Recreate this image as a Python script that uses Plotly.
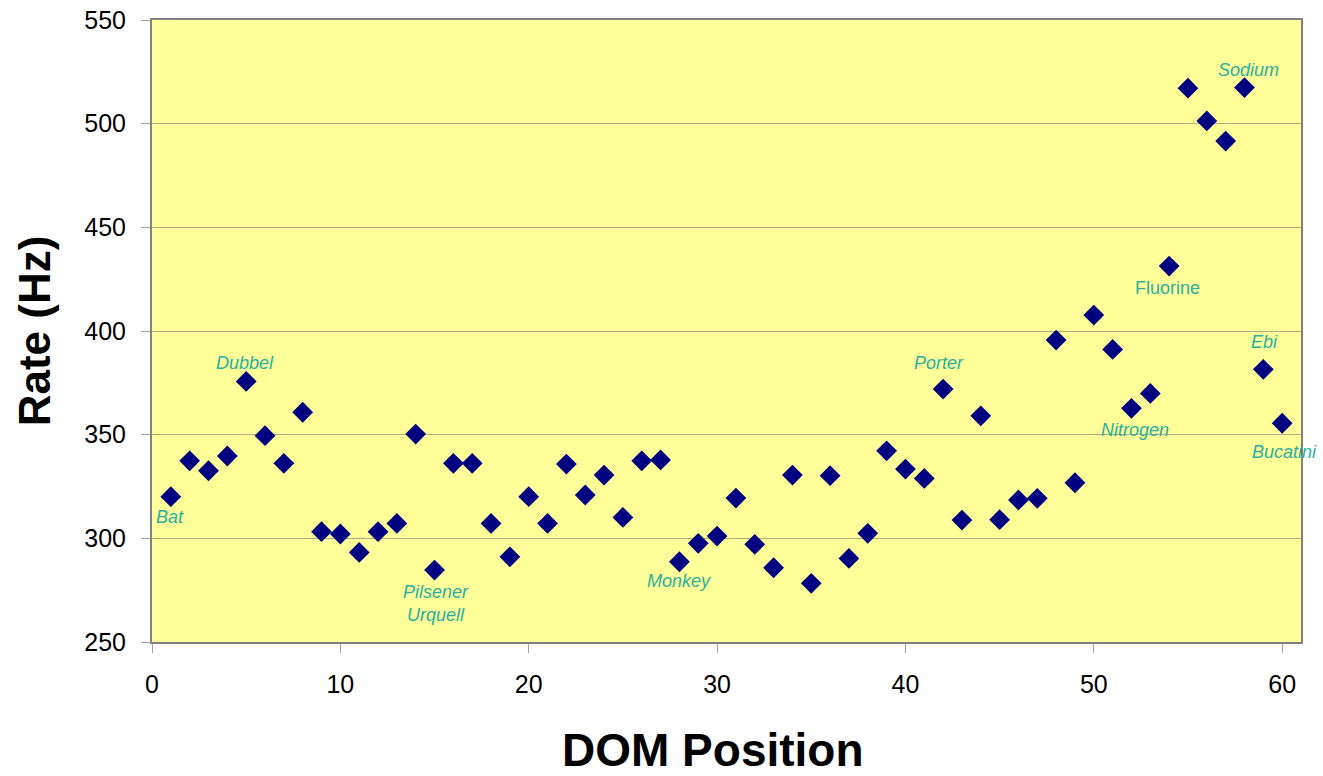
import plotly.graph_objects as go

positions = list(range(1, 61))
rates = [320.1, 337.4, 332.6, 339.7, 375.7, 349.5, 336.2, 360.8, 303.2, 302.1,
         293.2, 303.2, 307.2, 350.3, 284.7, 336.2, 336.2, 307.2, 291.1, 320.1,
         307.2, 335.8, 320.9, 330.5, 310.1, 337.4, 337.8, 288.7, 297.6, 301.1,
         319.4, 297.1, 285.8, 330.5, 278.3, 330.2, 290.3, 302.4, 342.2, 333.4,
         328.9, 372.0, 308.8, 359.1, 309.0, 318.5, 319.3, 395.6, 326.8, 407.7,
         391.1, 362.7, 369.9, 431.3, 517.1, 501.3, 491.6, 517.4, 381.5, 355.5]

label_texts = ["Bat", "Dubbel", "Pilsener<br>Urquell", "Monkey", "Porter",
               "Fluorine", "Sodium", "Nitrogen", "Ebi", "Bucatini"]
label_x = [0.95, 4.93, 15.06, 28.0, 41.8, 53.9, 58.2, 52.2, 59.07, 60.1]
label_y = [310.3, 384.5, 268.8, 279.4, 384.5, 420.7, 525.9, 352.2, 394.7, 341.6]
label_italic = [True, True, True, True, True, False, True, True, True, True]

x_title = "DOM Position"
y_title = "Rate (Hz)"

fig = go.Figure()
fig.add_trace(go.Scatter(
    x=positions, y=rates, mode="markers",
    marker=dict(symbol="diamond", size=16, color="#000080"),
    showlegend=False, cliponaxis=False,
))

for t, x, y, it in zip(label_texts, label_x, label_y, label_italic):
    fig.add_annotation(
        x=x, y=y, xref="x", yref="y",
        text=f"<i>{t}</i>" if it else t,
        showarrow=False,
        font=dict(family="Liberation Sans, Arial, sans-serif", size=18, color="#2AAFA0"),
        xanchor="center", yanchor="middle",
    )

# x-axis title drawn as an annotation so it is not squeezed into the margin
fig.add_annotation(
    x=29.8, y=-0.174, xref="x", yref="paper",
    text=f"<b>{x_title}</b>", showarrow=False,
    font=dict(family="Liberation Sans, Arial, sans-serif", size=46, color="black"),
    xanchor="center", yanchor="middle",
)

fig.update_layout(
    width=1323, height=776,
    margin=dict(l=152, r=22, t=20, b=134),
    paper_bgcolor="white",
    plot_bgcolor="#FFFF99",
    font=dict(family="Liberation Sans, Arial, sans-serif", color="black"),
    xaxis=dict(
        range=[0, 61], dtick=10, tick0=0,
        showgrid=False, zeroline=False, automargin=False,
        showline=True, linecolor="#808080", linewidth=2, mirror=True,
        ticks="outside", ticklen=9, tickcolor="#A0A0A0",
        tickfont=dict(size=25), ticklabelstandoff=10, ticklabeloverflow="allow",
    ),
    yaxis=dict(
        range=[250, 550], dtick=50,
        showgrid=True, gridcolor="#B0AC80", gridwidth=1,
        zeroline=False, automargin=False,
        showline=True, linecolor="#808080", linewidth=2, mirror=True,
        ticks="outside", ticklen=9, tickcolor="#A0A0A0",
        tickfont=dict(size=25), ticklabelstandoff=10, ticklabeloverflow="allow",
        title=dict(text=f"<b>{y_title}</b>", font=dict(size=44), standoff=20),
    ),
)

fig.write_html("out.html",
               config={"displayModeBar": False},
               post_script="document.body.style.margin='0';document.body.style.overflow='hidden';")
